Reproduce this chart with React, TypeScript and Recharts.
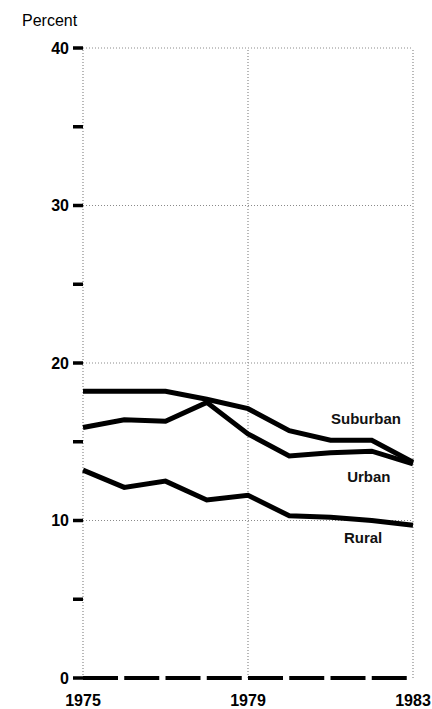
import React from 'react';
import { LineChart, Line, XAxis, YAxis, ReferenceLine, ReferenceDot } from 'recharts';

const years = [1975, 1976, 1977, 1978, 1979, 1980, 1981, 1982, 1983];
const suburban = [18.2, 18.2, 18.2, 17.7, 17.1, 15.7, 15.1, 15.1, 13.7];
const urban = [15.9, 16.4, 16.3, 17.5, 15.5, 14.1, 14.3, 14.4, 13.6];
const rural = [13.2, 12.1, 12.5, 11.3, 11.6, 10.3, 10.2, 10.0, 9.7];
const xTicks = [1975, 1979, 1983];
const yTicks = [0, 5, 10, 15, 20, 25, 30, 35, 40];
const gridY = [10, 20, 30, 40];
const gridX = [1975, 1979, 1983];

const data = years.map((y, i) => ({ year: y, suburban: suburban[i], urban: urban[i], rural: rural[i] }));

const FONT = '"Liberation Sans", Arial, Helvetica, sans-serif';

const YTick = (props: any) => {
  const { x, y, payload } = props;
  if (payload.value % 10 !== 0) return <g />;
  return (
    <text x={x} y={y} dy="0.36em" textAnchor="end" fontFamily={FONT} fontWeight="bold" fontSize={16} fill="#000">
      {payload.value}
    </text>
  );
};

const XTick = (props: any) => {
  const { x, y, payload } = props;
  return (
    <text x={x} y={y} dy="0.71em" textAnchor="middle" fontFamily={FONT} fontWeight="bold" fontSize={16} fill="#000">
      {payload.value}
    </text>
  );
};

const makeLabel = (txt: string) => (props: any) => (
  <text x={props.cx} y={props.cy} dy="0.36em" textAnchor="middle" fontFamily={FONT} fontWeight="bold" fontSize={15} fill="#111">
    {txt}
  </text>
);

export default function App() {
  return (
    <div style={{ position: 'absolute', left: 0, top: 0, width: 432, height: 709, background: '#fff' }}>
      <div style={{ position: 'absolute', left: 22, top: 12, fontFamily: FONT, fontSize: 16, color: '#000' }}>Percent</div>
      <LineChart width={432} height={709} data={data} margin={{ top: 48, right: 19, bottom: 0, left: 0 }}>
        <XAxis
          dataKey="year"
          type="number"
          domain={[1975, 1983]}
          ticks={xTicks}
          tickLine={false}
          tickSize={0}
          tickMargin={17}
          height={31}
          axisLine={false}
          tick={<XTick />}
          interval={0}
        />
        <YAxis
          type="number"
          domain={[0, 40]}
          ticks={yTicks}
          width={83}
          axisLine={false}
          tickLine={{ stroke: '#000', strokeWidth: 3.5 }}
          tickSize={10}
          tickMargin={4}
          tick={<YTick />}
          interval={0}
        />
        {gridY.map((v) => (
          <ReferenceLine key={'gy' + v} y={v} stroke="#8a8a8a" strokeDasharray="1 2" strokeWidth={1} />
        ))}
        {gridX.map((v) => (
          <ReferenceLine key={'gx' + v} x={v} stroke="#8a8a8a" strokeDasharray="1 2" strokeWidth={1.2} />
        ))}
        <ReferenceLine y={0} stroke="#000" strokeWidth={4} strokeDasharray="35 6.25" />
        <Line type="linear" dataKey="suburban" stroke="#000" strokeWidth={5} dot={false} isAnimationActive={false} />
        <Line type="linear" dataKey="urban" stroke="#000" strokeWidth={5} dot={false} isAnimationActive={false} />
        <Line type="linear" dataKey="rural" stroke="#000" strokeWidth={5} dot={false} isAnimationActive={false} />
        <ReferenceDot x={1981.86} y={16.5} r={0} shape={makeLabel('Suburban')} />
        <ReferenceDot x={1981.93} y={12.8} r={0} shape={makeLabel('Urban')} />
        <ReferenceDot x={1981.79} y={8.9} r={0} shape={makeLabel('Rural')} />
      </LineChart>
    </div>
  );
}
